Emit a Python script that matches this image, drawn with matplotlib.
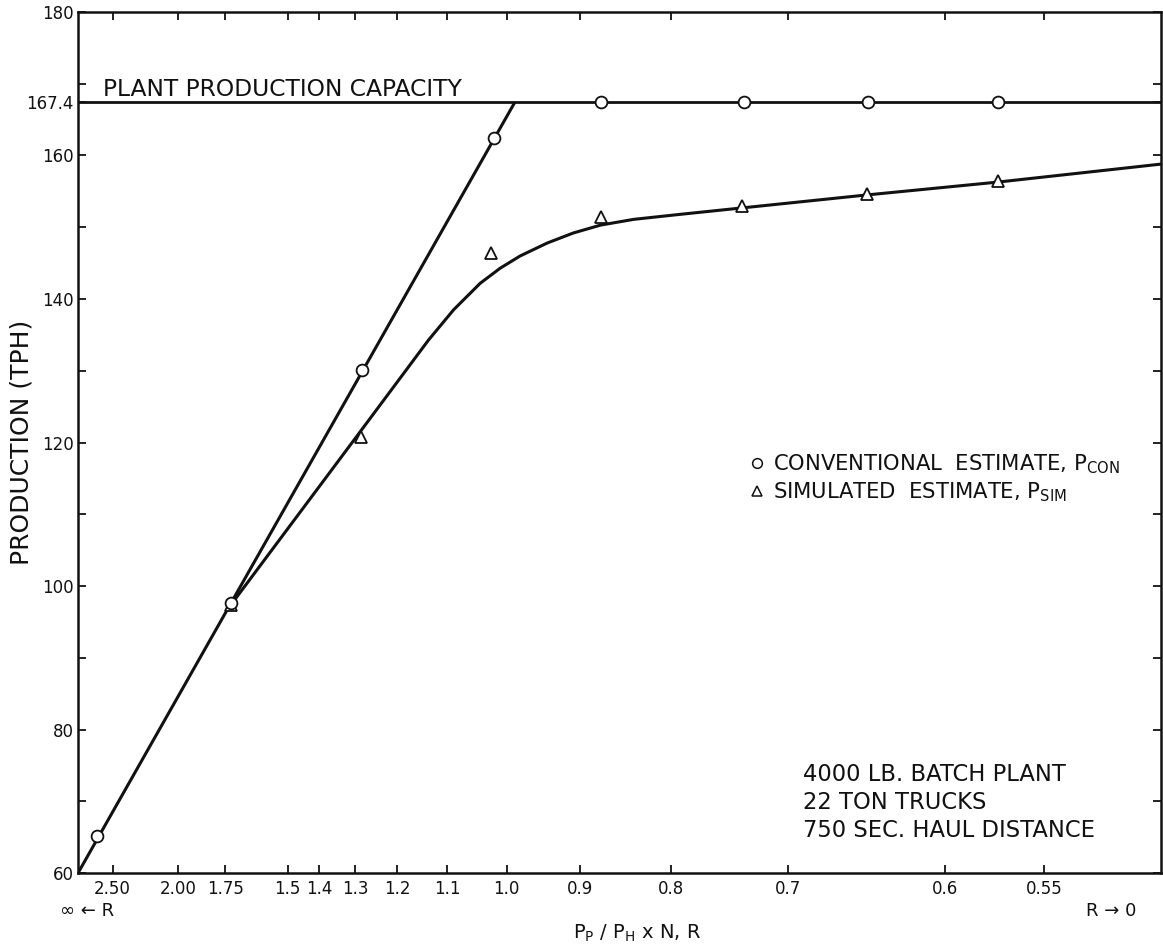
import numpy as np
import matplotlib
matplotlib.use("Agg")
import matplotlib.pyplot as plt
from matplotlib.lines import Line2D

# Ratio P_P / (P_H x N) and production (tons per hour)
conv_ratio = [2.654, 1.722, 1.283, 1.020, 0.874, 0.735, 0.645, 0.572]
conv_tph = [65.1, 97.7, 130.1, 162.5, 167.4, 167.4, 167.4, 167.4]

sim_ratio = [1.722, 1.286, 1.024, 0.875, 0.736, 0.646, 0.572]
sim_tph = [97.3, 120.8, 146.4, 151.4, 152.9, 154.7, 156.5]

# Faired curves through the estimates
conv_line_ratio = [2.879, 0.988]
conv_line_tph = [60.0, 167.4]
sim_curve_ratio = [1.721, 1.294, 1.135, 1.088, 1.042, 1.010, 0.980, 0.942,
                   0.908, 0.875, 0.838, 0.791, 0.736, 0.646, 0.572, 0.501]
sim_curve_tph = [97.5, 121.0, 134.3, 138.5, 142.2, 144.3, 146.0, 147.8,
                 149.2, 150.3, 151.1, 151.8, 152.7, 154.5, 156.3, 158.8]

plant_capacity = 167.4

ratio_ticks = [2.50, 2.00, 1.75, 1.5, 1.4, 1.3, 1.2, 1.1, 1.0, 0.9, 0.8, 0.7, 0.6, 0.55]
ratio_tick_labels = ["2.50", "2.00", "1.75", "1.5", "1.4", "1.3", "1.2", "1.1",
                     "1.0", "0.9", "0.8", "0.7", "0.6", "0.55"]
ratio_limits = [2.879, 0.501]
tph_ticks = [60, 80, 100, 120, 140, 160, 167.4, 180]
tph_tick_labels = ["60", "80", "100", "120", "140", "160", "167.4", "180"]
tph_minor_ticks = [70, 90, 110, 130, 150, 170]


def n_scale(r):
    """Horizontal position is proportional to the number of trucks, i.e. 1 / ratio."""
    return 1.0 / np.asarray(r, dtype=float)


plt.rcParams["font.family"] = ["DejaVu Sans"]

fig = plt.figure(figsize=(11.63, 9.44), dpi=100)
ax = fig.add_axes([0.0671, 0.0752, 0.9312, 0.9121])

ink = "#111111"

ax.axhline(plant_capacity, color=ink, lw=2.0, zorder=2)
ax.plot(n_scale(conv_line_ratio), conv_line_tph, color=ink, lw=2.2,
        solid_capstyle="butt", zorder=2)
ax.plot(n_scale(sim_curve_ratio), sim_curve_tph, color=ink, lw=2.2, zorder=2)

ax.plot(n_scale(sim_ratio), sim_tph, linestyle="none", marker="^", ms=9,
        mfc="white", mec=ink, mew=1.3, zorder=3)
ax.plot(n_scale(conv_ratio), conv_tph, linestyle="none", marker="o", ms=8.5,
        mfc="white", mec=ink, mew=1.3, zorder=4)

ax.set_xlim(n_scale(ratio_limits))
ax.set_ylim(60, 180)

ax.set_xticks(n_scale(ratio_ticks))
ax.set_xticklabels(ratio_tick_labels)
ax.set_yticks(tph_ticks)
ax.set_yticklabels(tph_tick_labels)
ax.set_yticks(tph_minor_ticks, minor=True)

ax.tick_params(axis="both", which="both", direction="in", length=6, width=1.3,
               colors=ink, labelsize=12)
ax.tick_params(axis="x", which="both", top=True, pad=5)
ax.tick_params(axis="y", which="both", right=True, pad=3)

for s in ax.spines.values():
    s.set_linewidth(1.8)
    s.set_color(ink)

ax.set_ylabel("PRODUCTION (TPH)", fontsize=18, color=ink)
ax.yaxis.set_label_coords(-0.0415, 0.50)
ax.set_xlabel(r"P$_\mathregular{P}$ / P$_\mathregular{H}$ x N, R", fontsize=14, color=ink)
ax.xaxis.set_label_coords(0.516, -0.058)

ax.text(0.0083, -0.044, "\u221e \u2190 R", transform=ax.transAxes, ha="center",
        va="center", fontsize=13, color=ink)
ax.text(0.954, -0.044, "R \u2192 0", transform=ax.transAxes, ha="center",
        va="center", fontsize=13, color=ink)

ax.text(0.023, 0.902, "PLANT PRODUCTION CAPACITY", transform=ax.transAxes,
        ha="left", va="baseline", fontsize=16.8, color=ink)

handles = [
    Line2D([], [], linestyle="none", marker="o", ms=7, mfc="white", mec=ink, mew=1.1),
    Line2D([], [], linestyle="none", marker="^", ms=7, mfc="white", mec=ink, mew=1.1),
]
labels = [r"CONVENTIONAL  ESTIMATE, P$_\mathregular{CON}$",
          r"SIMULATED  ESTIMATE, P$_\mathregular{SIM}$"]
ax.legend(handles, labels, loc="center left", bbox_to_anchor=(0.609, 0.459),
          frameon=False, fontsize=15.2, handlelength=0.8, handletextpad=0.4,
          labelspacing=0.2, borderpad=0, labelcolor=ink)

ax.text(0.669, 0.082, "4000 LB. BATCH PLANT\n22 TON TRUCKS\n750 SEC. HAUL DISTANCE",
        transform=ax.transAxes, ha="left", va="center", fontsize=16.3,
        linespacing=1.27, color=ink)

fig.savefig("out.png", dpi=100, facecolor="white")
